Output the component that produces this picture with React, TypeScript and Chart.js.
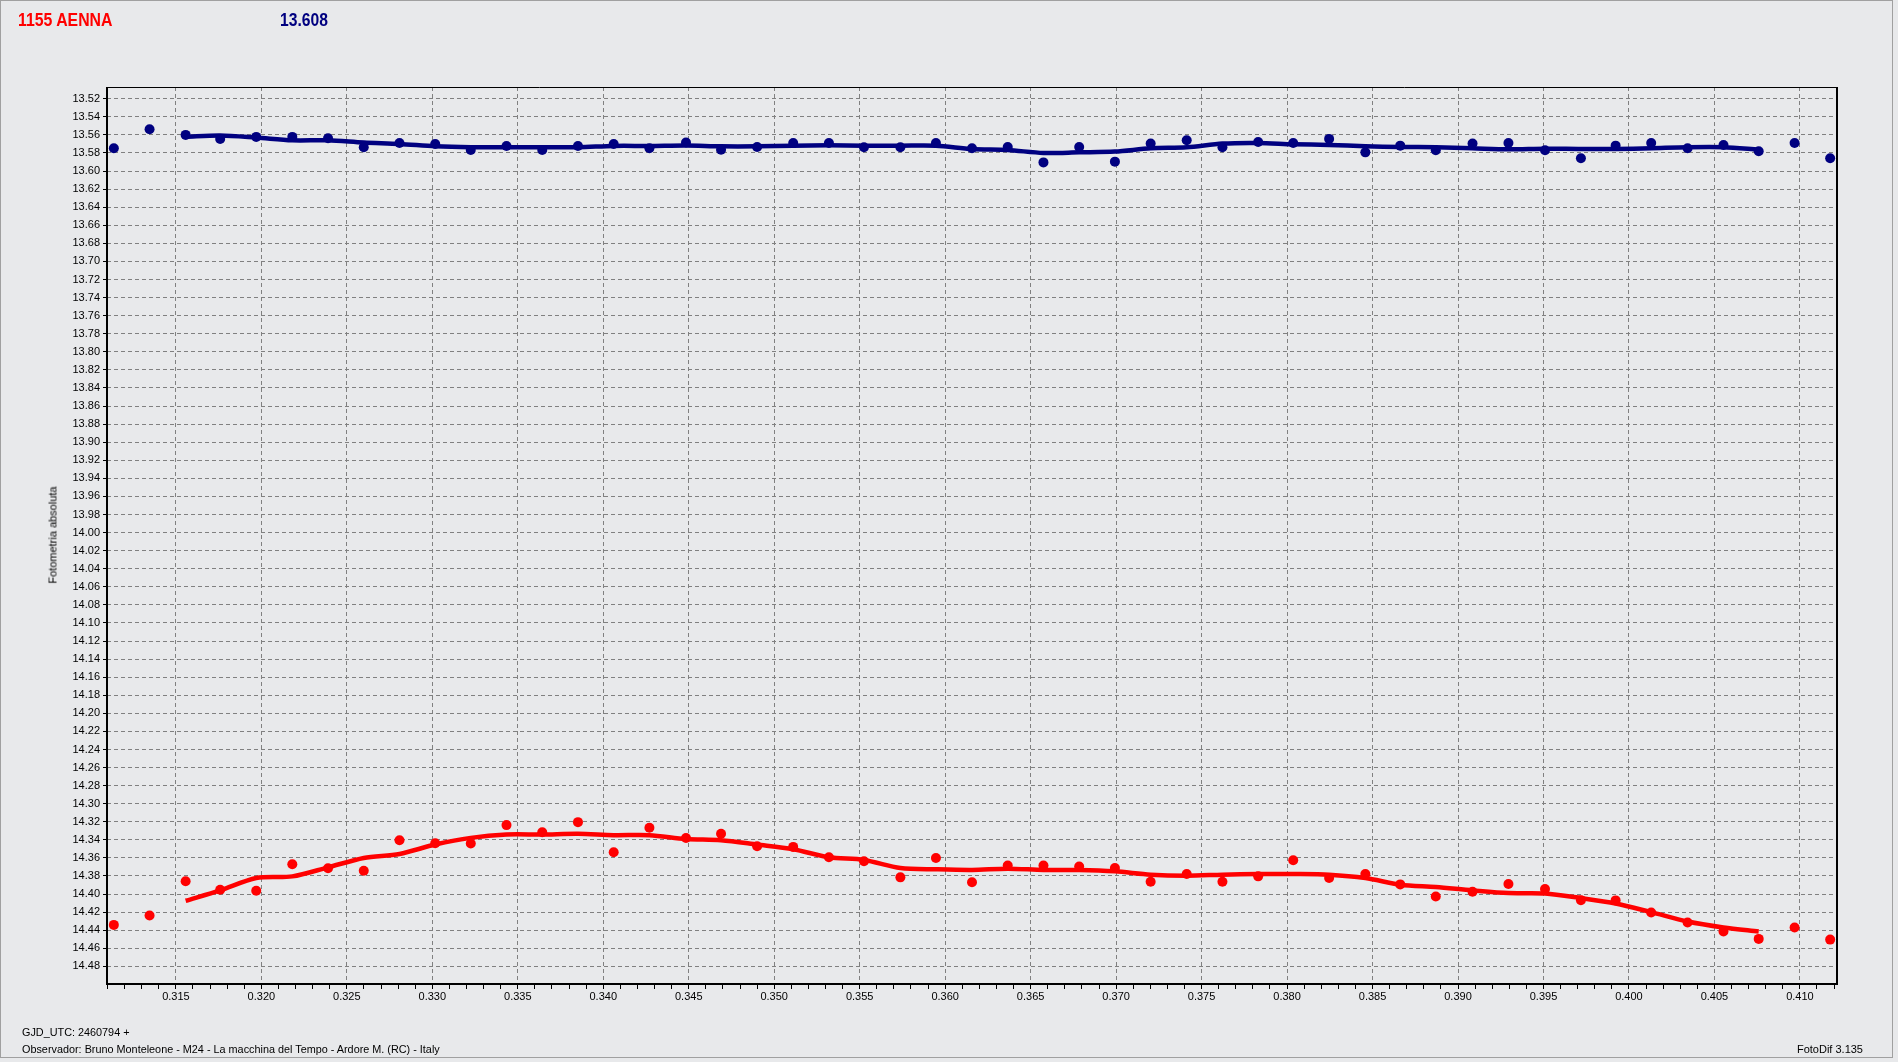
import React, { useEffect, useRef } from 'react';
import { Chart, registerables } from 'chart.js';

Chart.register(...registerables);

// ---- text ----
const TITLE = '1155 AENNA';
const MEAN_LABEL = '13.608';
const Y_LABEL = 'Fotometria absoluta';
const FOOTER_TIME = 'GJD_UTC: 2460794 +';
const FOOTER_OBS = 'Observador: Bruno Monteleone - M24 - La macchina del Tempo - Ardore M. (RC) - Italy';
const FOOTER_APP = 'FotoDif 3.135';

// ---- data ----
const TIMES = [
  0.31137, 0.31346, 0.31557, 0.31759, 0.3197, 0.32181, 0.3239, 0.32599, 0.32808, 0.33017,
  0.33225, 0.33434, 0.33643, 0.33852, 0.34061, 0.3427, 0.34484, 0.34689, 0.349, 0.35111,
  0.3532, 0.35525, 0.35738, 0.35946, 0.36157, 0.36366, 0.36575, 0.36784, 0.36993, 0.37202,
  0.37413, 0.37622, 0.37831, 0.38036, 0.38246, 0.38458, 0.38662, 0.3887, 0.39085, 0.39295,
  0.39509, 0.39719, 0.39922, 0.4013, 0.40343, 0.40553, 0.40759, 0.40969, 0.41177,
];

const TARGET_MAG = [
  13.5748, 13.5537, 13.56, 13.5644, 13.5622, 13.5622, 13.5637, 13.5737, 13.5689, 13.57,
  13.5767, 13.5722, 13.5767, 13.5722, 13.57, 13.5748, 13.5684, 13.5763, 13.5733, 13.5689,
  13.5689, 13.5737, 13.5737, 13.5689, 13.5748, 13.5733, 13.5904, 13.5733, 13.5896, 13.5696,
  13.5659, 13.5737, 13.5678, 13.5689, 13.5644, 13.5793, 13.5719, 13.577, 13.5696, 13.5689,
  13.577, 13.5859, 13.5719, 13.5689, 13.5748, 13.5711, 13.5781, 13.5689, 13.5859,
];

const COMP_MAG = [
  14.4341, 14.4237, 14.3859, 14.3952, 14.3963, 14.367, 14.3715, 14.3741, 14.3404, 14.3437,
  14.3441, 14.3237, 14.3315, 14.3204, 14.3537, 14.3267, 14.338, 14.3333, 14.347, 14.3478,
  14.3593, 14.3637, 14.3815, 14.36, 14.387, 14.3685, 14.3685, 14.3696, 14.3711, 14.3863,
  14.3778, 14.3863, 14.3804, 14.3626, 14.3822, 14.3778, 14.3893, 14.4026, 14.3974, 14.3889,
  14.3944, 14.4067, 14.407, 14.4204, 14.4315, 14.4415, 14.4496, 14.437, 14.4504,
];

// smoothed curves start at the third observation
const SMOOTH_START = 2;

const TARGET_SMOOTH = [
  13.5622, 13.5607, 13.563, 13.566, 13.566, 13.5685, 13.57, 13.5726, 13.5737, 13.5737,
  13.5737, 13.5737, 13.5722, 13.5722, 13.5717, 13.5726, 13.5726, 13.5719, 13.5715, 13.5719,
  13.5719, 13.5719, 13.5756, 13.5767, 13.58, 13.5793, 13.5785, 13.5748, 13.5737, 13.5696,
  13.5689, 13.5704, 13.5711, 13.5726, 13.5733, 13.5737, 13.5748, 13.5759, 13.5752, 13.5756,
  13.5756, 13.5748, 13.5737, 13.5737, 13.5763,
];

const COMP_SMOOTH = [
  14.4074, 14.3959, 14.3822, 14.3804, 14.3704, 14.36, 14.3556, 14.3452, 14.3378, 14.3341,
  14.3341, 14.3333, 14.3348, 14.3348, 14.339, 14.3404, 14.3452, 14.3504, 14.3593, 14.3622,
  14.3711, 14.3726, 14.3733, 14.3719, 14.3733, 14.3733, 14.3748, 14.3785, 14.3796, 14.3785,
  14.3778, 14.3778, 14.3785, 14.3822, 14.3896, 14.3922, 14.3959, 14.3989, 14.3993, 14.4044,
  14.4104, 14.42, 14.4304, 14.437, 14.4415,
];

// ---- axes ----
const X_MIN = 0.31097;
const X_MAX = 0.41217;
const X_STEP = 0.001;
const X_LABEL_EVERY = 5; // label every 0.005
const Y_MIN = 13.507;
const Y_MAX = 14.4995;
const Y_STEP = 0.02;

const NAVY = '#000080';
const RED = '#ff0000';
const BG = '#e8e9eb';
const GRID = '#808080';
const FONT = '"Liberation Sans", Arial, sans-serif';

const W = 1898;
const H = 1062;

const isMajorX = (v: number) => Math.round(v * 1000) % X_LABEL_EVERY === 0;

const framePlugin = {
  id: 'frame',
  afterDatasetsDraw(chart: any) {
    const { ctx, chartArea: a } = chart;
    ctx.save();
    ctx.strokeStyle = '#000';
    ctx.lineWidth = 1;
    ctx.beginPath();
    ctx.moveTo(a.left, a.top + 0.5);
    ctx.lineTo(a.right, a.top + 0.5);
    ctx.stroke();
    ctx.lineWidth = 2;
    ctx.beginPath();
    ctx.moveTo(a.left, a.top);
    ctx.lineTo(a.left, a.bottom);
    ctx.lineTo(a.right, a.bottom);
    ctx.lineTo(a.right, a.top);
    ctx.stroke();
    ctx.restore();
  },
};

export default function App() {
  const canvasRef = useRef<HTMLCanvasElement | null>(null);

  useEffect(() => {
    if (!canvasRef.current) return;
    const pts = (ys: number[], offset: number) =>
      ys.map((y, i) => ({ x: TIMES[i + offset], y }));

    const chart = new Chart(canvasRef.current, {
      type: 'scatter',
      data: {
        datasets: [
          {
            label: 'smooth target',
            data: pts(TARGET_SMOOTH, SMOOTH_START),
            showLine: true,
            borderColor: NAVY,
            borderWidth: 4.5,
            pointRadius: 0,
            tension: 0.3,
          },
          {
            label: 'target',
            data: pts(TARGET_MAG, 0),
            showLine: false,
            backgroundColor: NAVY,
            borderColor: NAVY,
            pointRadius: 5,
            pointBorderWidth: 0,
          },
          {
            label: 'smooth comp',
            data: pts(COMP_SMOOTH, SMOOTH_START),
            showLine: true,
            borderColor: RED,
            borderWidth: 4.5,
            pointRadius: 0,
            tension: 0.3,
          },
          {
            label: 'comp',
            data: pts(COMP_MAG, 0),
            showLine: false,
            backgroundColor: RED,
            borderColor: RED,
            pointRadius: 5,
            pointBorderWidth: 0,
          },
        ],
      },
      options: {
        animation: false,
        responsive: false,
        devicePixelRatio: 1,
        layout: { padding: { top: 87, right: W - 1837, bottom: 0, left: 0 } },
        plugins: {
          legend: { display: false },
          tooltip: { enabled: false },
          title: { display: false },
        },
        scales: {
          x: {
            type: 'linear',
            min: X_MIN,
            max: X_MAX,
            afterFit: (s: any) => {
              s.height = H - 984;
            },
            ticks: {
              stepSize: X_STEP,
              includeBounds: false,
              autoSkip: false,
              maxRotation: 0,
              minRotation: 0,
              padding: 1,
              color: '#000',
              font: { family: FONT, size: 11 },
              callback: (v: any) => (isMajorX(Number(v)) ? Number(v).toFixed(3) : ''),
            },
            grid: {
              color: (ctx: any) => (ctx.tick && isMajorX(ctx.tick.value) ? GRID : 'rgba(0,0,0,0)'),
              lineWidth: 1,
              tickColor: '#000',
              tickLength: 5,
              tickWidth: 1,
              tickBorderDash: [],
            },
            border: { display: false, dash: [4, 3] },
          },
          y: {
            type: 'linear',
            reverse: true,
            min: Y_MIN,
            max: Y_MAX,
            afterFit: (s: any) => {
              s.width = 107;
            },
            ticks: {
              stepSize: Y_STEP,
              includeBounds: false,
              autoSkip: false,
              padding: 3,
              color: '#000',
              font: { family: FONT, size: 11 },
              callback: (v: any) => Number(v).toFixed(2),
            },
            grid: {
              color: GRID,
              lineWidth: 1,
              tickColor: '#000',
              tickLength: 4,
              tickWidth: 1,
              tickBorderDash: [],
            },
            border: { display: false, dash: [4, 3] },
          },
        },
      },
      plugins: [framePlugin],
    } as any);

    return () => chart.destroy();
  }, []);

  const small: React.CSSProperties = {
    position: 'absolute',
    fontFamily: FONT,
    fontSize: 11,
    lineHeight: '13px',
    color: '#000',
    whiteSpace: 'nowrap',
  };

  return (
    <div
      style={{
        position: 'fixed',
        left: 0,
        top: 0,
        width: W,
        height: H,
        background: BG,
        overflow: 'hidden',
      }}
    >
      <div
        style={{
          position: 'absolute',
          left: 0,
          top: 0,
          width: 1893,
          height: 1058,
          border: '1px solid #a0a0a0',
          boxSizing: 'border-box',
        }}
      />
      <canvas ref={canvasRef} width={W} height={H} style={{ position: 'absolute', left: 0, top: 0, width: W, height: H }} />
      <div
        style={{
          position: 'absolute',
          left: 18,
          top: 11,
          fontFamily: FONT,
          fontWeight: 'bold',
          fontSize: 18,
          lineHeight: '18px',
          color: RED,
          transform: 'scaleX(0.88)',
          transformOrigin: 'left top',
          whiteSpace: 'nowrap',
        }}
      >
        {TITLE}
      </div>
      <div
        style={{
          position: 'absolute',
          left: 280,
          top: 11,
          fontFamily: FONT,
          fontWeight: 'bold',
          fontSize: 18,
          lineHeight: '18px',
          color: NAVY,
          transform: 'scaleX(0.87)',
          transformOrigin: 'left top',
          whiteSpace: 'nowrap',
        }}
      >
        {MEAN_LABEL}
      </div>
      <div
        style={{
          ...small,
          left: 53,
          top: 535,
          color: '#000',
          transform: 'translate(-50%, -50%) rotate(-90deg)',
        }}
      >
        {Y_LABEL}
      </div>
      <div style={{ ...small, left: 22, top: 1026, transform: 'scaleX(0.985)', transformOrigin: 'left top' }}>{FOOTER_TIME}</div>
      <div style={{ ...small, left: 22, top: 1043, transform: 'scaleX(0.985)', transformOrigin: 'left top' }}>{FOOTER_OBS}</div>
      <div style={{ ...small, right: W - 1863, top: 1043 }}>{FOOTER_APP}</div>
    </div>
  );
}
